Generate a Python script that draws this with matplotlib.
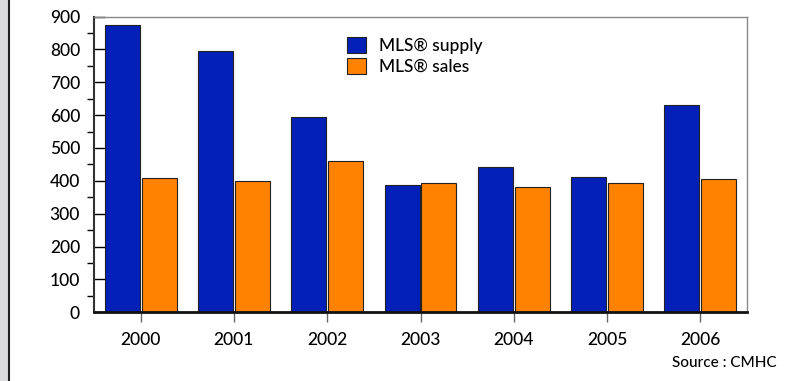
import matplotlib.pyplot as plt
from matplotlib.ticker import MultipleLocator
import numpy as np

plt.rcParams['font.family'] = ['Lato', 'DejaVu Sans']
plt.rcParams['font.weight'] = 'medium'

# Дані
years = ['2000', '2001', '2002', '2003', '2004', '2005', '2006']
supply = [873, 795, 594, 388, 443, 412, 630]
sales = [410, 400, 460, 394, 381, 393, 405]

blue = '#0020b8'
orange = '#ff8200'

fig = plt.figure(figsize=(7.97, 3.81), dpi=100)

# сіра смуга зліва
fig.patches.append(plt.Rectangle((0, 0), 8 / 797, 1, transform=fig.transFigure,
                                 color='#dcdcdf', zorder=0))
fig.lines.append(plt.Line2D([9 / 797, 9 / 797], [0, 1], transform=fig.transFigure,
                            color='#222222', lw=1.5))

ax = fig.add_axes([94 / 797, 68.7 / 381, 653 / 797, 295.8 / 381])

x = np.arange(len(years))
w = 0.375
ax.bar(x - w / 2 - 0.01, supply, w, color=blue, edgecolor='#222222', linewidth=0.8,
       label='MLS® supply')
ax.bar(x + w / 2 + 0.01, sales, w, color=orange, edgecolor='#222222', linewidth=0.8,
       label='MLS® sales')

ax.set_xlim(-0.5, len(years) - 0.5)
ax.set_ylim(0, 900)
ax.set_xticks(x)
ax.set_xticklabels(years)
ax.yaxis.set_major_locator(MultipleLocator(100))
ax.yaxis.set_minor_locator(MultipleLocator(50))

ax.tick_params(axis='y', which='major', direction='in', length=8, width=1,
               labelsize=12.5, pad=10, colors='black')
ax.tick_params(axis='y', which='minor', direction='out', length=5, width=1)
ax.tick_params(axis='x', which='major', direction='out', length=7.5, width=1,
               color='#666666', labelsize=12.5, pad=7)

ax.spines['left'].set_color('#333333')
ax.spines['left'].set_linewidth(1.5)
ax.spines['bottom'].set_color('#111111')
ax.spines['bottom'].set_linewidth(2)
for s in ['top', 'right']:
    ax.spines[s].set_color('#888888')
    ax.spines[s].set_linewidth(1)

ax.legend(loc='upper left', bbox_to_anchor=(0.388, 0.93), frameon=False,
          fontsize=12.5, handlelength=1.1, handleheight=1.0,
          labelspacing=0.25, handletextpad=0.75, borderaxespad=0, borderpad=0)

fig.text(777 / 797, 1 - 363 / 381, 'Source : CMHC', ha='right', va='center', fontsize=11)

fig.savefig('out.png', dpi=100)
